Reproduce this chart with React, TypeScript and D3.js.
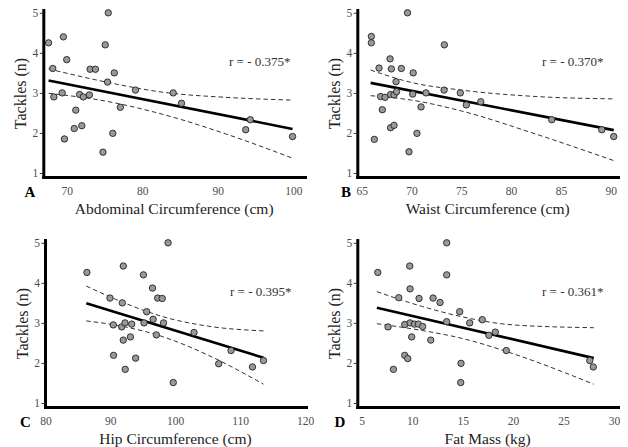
import React, { useEffect, useRef } from 'react';
import * as d3 from 'd3';

// shared y axis (tackles)
const yTicks = [1, 2, 3, 4, 5];
const yLimits = [0.9, 5.07];

// A: abdominal circumference
const abdTicks = [70, 80, 90, 100];
const abdX = [67.6, 69.56, 75.5, 75.1, 70.0, 68.15, 73.1, 73.8, 76.3, 75.4, 69.4, 68.3, 71.7, 72.2, 73.0, 79.1, 77.1, 71.2, 71.0, 72.0, 69.7, 76.1, 74.8, 84.1, 85.2, 94.3, 93.7, 99.9];
const abdY = [4.25, 4.4, 5.0, 4.2, 3.83, 3.61, 3.59, 3.59, 3.5, 3.27, 3.0, 2.9, 2.96, 2.9, 2.95, 3.07, 2.64, 2.57, 2.11, 2.18, 1.85, 1.99, 1.52, 3.0, 2.74, 2.33, 2.08, 1.91];
const abdFitX = [67.6, 99.9];
const abdFitY = [3.31, 2.10];
const abdBandX = [67.6, 75, 83, 91, 99.9];
const abdUpper = [3.60, 3.28, 3.01, 2.89, 2.82];
const abdLower = [2.99, 2.80, 2.45, 1.98, 1.37];

// B: waist circumference
const waistTicks = [65, 70, 75, 80, 85, 90];
const waistX = [65.97, 65.97, 69.6, 73.3, 67.85, 66.74, 67.98, 68.98, 70.17, 68.45, 66.9, 67.34, 67.9, 68.25, 68.5, 70.12, 71.46, 73.27, 74.9, 75.5, 70.96, 67.07, 67.9, 68.25, 66.27, 70.55, 69.75, 76.95, 84.08, 89.1, 90.3];
const waistY = [4.41, 4.25, 5.0, 4.2, 3.85, 3.62, 3.6, 3.61, 3.5, 3.28, 2.91, 2.89, 2.96, 2.95, 3.03, 2.97, 3.0, 3.07, 3.0, 2.7, 2.65, 2.58, 2.13, 2.19, 1.84, 1.99, 1.53, 2.78, 2.33, 2.08, 1.91];
const waistFitX = [65.9, 90.3];
const waistFitY = [3.25, 2.07];
const waistBandX = [65.9, 70, 75, 82.5, 90.3];
const waistUpper = [3.57, 3.26, 3.07, 2.91, 2.85];
const waistLower = [2.93, 2.82, 2.55, 1.97, 1.31];

// C: hip circumference
const hipTicks = [80, 90, 100, 110, 120];
const hipX = [86.4, 92.0, 95.1, 96.5, 97.3, 98.0, 89.95, 91.85, 95.6, 96.6, 90.46, 91.75, 92.26, 93.3, 95.2, 98.2, 97.1, 92.0, 93.1, 90.5, 93.9, 92.3, 98.9, 102.9, 108.6, 106.7, 111.9, 113.6, 99.7];
const hipY = [4.26, 4.42, 4.2, 3.87, 3.62, 3.61, 3.62, 3.5, 3.28, 3.09, 2.95, 2.9, 3.0, 2.97, 3.0, 3.0, 2.7, 2.57, 2.65, 2.19, 2.12, 1.84, 5.0, 2.76, 2.31, 1.98, 1.9, 2.06, 1.51];
const hipFitX = [86.3, 113.6];
const hipFitY = [3.49, 2.13];
const hipBandX = [86.3, 92, 98, 105, 113.6];
const hipUpper = [3.92, 3.51, 3.16, 2.92, 2.80];
const hipLower = [3.05, 2.91, 2.66, 2.20, 1.47];

// D: fat mass
const fatTicks = [5, 10, 15, 20, 25, 30];
const fatX = [6.59, 9.76, 13.42, 13.42, 9.79, 8.67, 10.68, 12.07, 12.76, 14.71, 15.7, 7.61, 9.26, 9.79, 10.22, 10.61, 11.04, 13.42, 9.95, 11.84, 9.26, 9.56, 8.14, 14.84, 14.81, 16.95, 17.6, 18.24, 19.33, 27.6, 27.95];
const fatY = [4.26, 4.42, 5.0, 4.2, 3.85, 3.63, 3.61, 3.62, 3.51, 3.28, 3.0, 2.9, 2.96, 3.0, 2.97, 2.97, 2.91, 3.03, 2.65, 2.57, 2.19, 2.11, 1.84, 1.99, 1.51, 3.08, 2.69, 2.77, 2.31, 2.06, 1.9];
const fatFitX = [6.5, 28];
const fatFitY = [3.38, 2.12];
const fatBandX = [6.5, 11, 15, 20, 28];
const fatUpper = [3.78, 3.41, 3.15, 2.95, 2.88];
const fatLower = [2.98, 2.81, 2.61, 2.23, 1.47];

const panels = [
  { letter: 'A', title: 'Abdominal Circumference (cm)', r: 'r = - 0.375*', xs: abdX, ys: abdY, ticks: abdTicks, xDomain: [66.9, 101.55],
    fitX: abdFitX, fitY: abdFitY, bandX: abdBandX, upper: abdUpper, lower: abdLower, left: 43.3, top: 10, right: 305, letterX: 30 },
  { letter: 'B', title: 'Waist Circumference (cm)', r: 'r = - 0.370*', xs: waistX, ys: waistY, ticks: waistTicks, xDomain: [64.56, 90.73],
    fitX: waistFitX, fitY: waistFitY, bandX: waistBandX, upper: waistUpper, lower: waistLower, left: 357.3, top: 10, right: 618, letterX: 346 },
  { letter: 'C', title: 'Hip Circumference (cm)', r: 'r = - 0.395*', xs: hipX, ys: hipY, ticks: hipTicks, xDomain: [79.94, 120.15],
    fitX: hipFitX, fitY: hipFitY, bandX: hipBandX, upper: hipUpper, lower: hipLower, left: 45, top: 240, right: 306, letterX: 25.5 },
  { letter: 'D', title: 'Fat Mass (kg)', r: 'r = - 0.361*', xs: fatX, ys: fatY, ticks: fatTicks, xDomain: [4.56, 30.4],
    fitX: fatFitX, fitY: fatFitY, bandX: fatBandX, upper: fatUpper, lower: fatLower, left: 357.3, top: 240, right: 618, letterX: 340 },
];

const plotH = 167;
const serif = '"Liberation Serif", "Times New Roman", serif';

export default function App() {
  const svgRef = useRef<SVGSVGElement | null>(null);

  useEffect(() => {
    const svg = d3.select(svgRef.current);
    svg.selectAll('*').remove();

    panels.forEach(p => {
      const bottom = p.top + plotH;
      const x = d3.scaleLinear().domain(p.xDomain).range([p.left, p.right]);
      const y = d3.scaleLinear().domain(yLimits).range([bottom, p.top]);
      const g = svg.append('g');

      // confidence band (dashed)
      const band = d3.line<number>()
        .x((d, i) => x(p.bandX[i]))
        .y(d => y(d))
        .curve(d3.curveMonotoneX);
      [p.upper, p.lower].forEach(arr => {
        g.append('path')
          .attr('d', band(arr))
          .attr('fill', 'none')
          .attr('stroke', '#333')
          .attr('stroke-width', 1)
          .attr('stroke-dasharray', '4.5,3');
      });

      // regression line
      const fit = d3.line<number>().x((d, i) => x(p.fitX[i])).y(d => y(d));
      g.append('path')
        .attr('d', fit(p.fitY))
        .attr('fill', 'none')
        .attr('stroke', '#000')
        .attr('stroke-width', 2.6);

      // points
      g.selectAll('circle')
        .data(p.xs)
        .join('circle')
        .attr('cx', d => x(d))
        .attr('cy', (d, i) => y(p.ys[i]))
        .attr('r', 3.2)
        .attr('fill', '#999')
        .attr('stroke', '#222')
        .attr('stroke-width', 0.9);

      // axes
      const yAxis = d3.axisLeft(y).tickValues(yTicks).tickSize(3.5).tickSizeOuter(0).tickPadding(1.5).tickFormat(d3.format('d'));
      const yg = g.append('g').attr('transform', `translate(${p.left},0)`).call(yAxis);
      const xAxis = d3.axisBottom(x).tickValues(p.ticks).tickSize(0).tickSizeOuter(0).tickPadding(10).tickFormat(d3.format('d'));
      const xg = g.append('g').attr('transform', `translate(0,${bottom})`).call(xAxis);

      [yg, xg].forEach(ax => {
        ax.attr('font-family', serif).attr('font-size', 11.5);
        ax.select('.domain').attr('stroke', '#000').attr('stroke-width', 3).attr('stroke-linecap', 'square');
        ax.selectAll('.tick line').attr('stroke', '#333');
        ax.selectAll('.tick text').attr('fill', '#4d4d4d');
      });

      // titles
      g.append('text')
        .attr('x', (p.left + p.right) / 2)
        .attr('y', bottom + 37)
        .attr('text-anchor', 'middle')
        .attr('font-family', serif)
        .attr('font-size', 15.5)
        .attr('fill', '#222')
        .text(p.title);

      g.append('text')
        .attr('transform', `translate(${p.left - 17.5},${(p.top + bottom) / 2}) rotate(-90)`)
        .attr('text-anchor', 'middle')
        .attr('font-family', serif)
        .attr('font-size', 16)
        .attr('fill', '#222')
        .text('Tackles (n)');

      g.append('text')
        .attr('x', p.letterX)
        .attr('y', bottom + 20)
        .attr('text-anchor', 'middle')
        .attr('font-family', serif)
        .attr('font-weight', 'bold')
        .attr('font-size', 15)
        .attr('fill', '#000')
        .text(p.letter);

      g.append('text')
        .attr('x', p.right - 76)
        .attr('y', p.top + 56)
        .attr('font-family', serif)
        .attr('font-size', 13)
        .attr('fill', '#333')
        .text(p.r);
    });
  }, []);

  return (
    <svg
      ref={svgRef}
      width={628}
      height={447}
      style={{ position: 'absolute', left: 0, top: 0, background: '#fff' }}
    />
  );
}
